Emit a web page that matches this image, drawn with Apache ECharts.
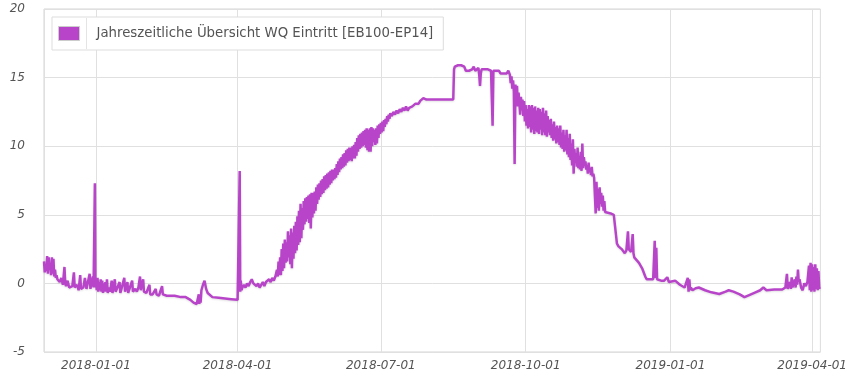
<!DOCTYPE html>
<html>
<head>
<meta charset="utf-8">
<script src="https://cdn.jsdelivr.net/npm/echarts@6/dist/echarts.min.js"></script>
<style>
html,body{margin:0;padding:0;background:#fff;}
#chart{width:850px;height:375px;}
</style>
</head>
<body>
<div id="chart"></div>
<script>
// Each entry: [date, value, value, ...] ; several values in one entry are spread over that day.
const seriesName = 'Jahreszeitliche Übersicht WQ Eintritt [EB100-EP14]';
const yTicks = [-5, 0, 5, 10, 15, 20];

const winter2017 = [
 ['2017-11-29', 1.6, 0.8], ['2017-11-30', 1.4, 0.9], ['2017-12-01', 2.0, 0.7],
 ['2017-12-02', 1.9, 1.0], ['2017-12-03', 1.4, 0.6], ['2017-12-04', 1.9, 0.7],
 ['2017-12-05', 1.8, 0.5], ['2017-12-06', 1.0, 0.4], ['2017-12-07', 0.6, 0.3],
 ['2017-12-08', 0.3], ['2017-12-09', 0.1], ['2017-12-10', 0.4], ['2017-12-11', -0.1],
 ['2017-12-12', 1.2, 0.0], ['2017-12-13', -0.2], ['2017-12-14', 0.2], ['2017-12-15', -0.3],
 ['2017-12-16', -0.4], ['2017-12-17', -0.2], ['2017-12-18', 0.8, -0.3], ['2017-12-19', -0.4],
 ['2017-12-20', -0.1], ['2017-12-21', -0.5], ['2017-12-22', 0.6, -0.4], ['2017-12-23', -0.5],
 ['2017-12-24', -0.3], ['2017-12-25', 0.4], ['2017-12-26', -0.4], ['2017-12-27', -0.5],
 ['2017-12-28', 0.7, -0.4], ['2017-12-29', -0.3], ['2017-12-30', 0.5, -0.3],
 ['2017-12-31', -0.2, 7.3, -0.3]
];

const q1_2018 = [
 ['2018-01-01', 0.3, -0.5], ['2018-01-02', 0.4, -0.6], ['2018-01-03', 0.1, -0.5],
 ['2018-01-04', 0.3, -0.6], ['2018-01-05', 0.2, -0.7], ['2018-01-06', 0.0, -0.6],
 ['2018-01-07', 0.1, -0.6], ['2018-01-08', 0.3, -0.7], ['2018-01-09', -0.3], ['2018-01-10', -0.6],
 ['2018-01-11', 0.2, -0.7], ['2018-01-12', -0.4], ['2018-01-13', 0.3, -0.6], ['2018-01-14', -0.5],
 ['2018-01-15', -0.2], ['2018-01-16', 0.1, -0.7], ['2018-01-17', -0.5], ['2018-01-18', -0.4],
 ['2018-01-19', 0.4, -0.6], ['2018-01-20', -0.5], ['2018-01-21', 0.1, -0.7], ['2018-01-22', -0.5],
 ['2018-01-23', -0.6], ['2018-01-24', 0.2, -0.6], ['2018-01-25', -0.5], ['2018-01-26', -0.4],
 ['2018-01-27', -0.6], ['2018-01-28', -0.3], ['2018-01-29', 0.5, -0.5], ['2018-01-30', -0.2],
 ['2018-01-31', 0.3, -0.6], ['2018-02-01', -0.6], ['2018-02-02', -0.7], ['2018-02-03', -0.8],
 ['2018-02-04', -0.1, -0.8], ['2018-02-06', -0.8], ['2018-02-08', -0.4, -0.8], ['2018-02-10', -0.9],
 ['2018-02-12', -0.2, -0.8], ['2018-02-15', -0.9], ['2018-02-18', -0.9], ['2018-02-20', -0.9],
 ['2018-02-24', -1.0], ['2018-02-27', -1.0], ['2018-03-02', -1.2], ['2018-03-04', -1.4],
 ['2018-03-06', -1.5], ['2018-03-07', -1.5, -0.8, -1.5], ['2018-03-08', -0.9, -1.4],
 ['2018-03-09', -0.5], ['2018-03-10', -0.1], ['2018-03-11', 0.2], ['2018-03-12', -0.4],
 ['2018-03-13', -0.7], ['2018-03-16', -1.0], ['2018-03-20', -1.05], ['2018-03-24', -1.1],
 ['2018-03-28', -1.15], ['2018-04-01', -1.2], ['2018-04-02', -1.2, 8.2, -0.6]
];

const spring2018 = [
 ['2018-04-03', 0.2, -0.5], ['2018-04-04', -0.3], ['2018-04-05', -0.1], ['2018-04-06', -0.3],
 ['2018-04-07', 0.0], ['2018-04-08', -0.2], ['2018-04-09', 0.1], ['2018-04-10', 0.3],
 ['2018-04-11', 0.0], ['2018-04-12', -0.1], ['2018-04-13', -0.2], ['2018-04-14', 0.0],
 ['2018-04-15', -0.3], ['2018-04-16', -0.1], ['2018-04-17', 0.1], ['2018-04-18', -0.2],
 ['2018-04-19', 0.1], ['2018-04-20', 0.0], ['2018-04-21', 0.3], ['2018-04-22', 0.1],
 ['2018-04-23', 0.4], ['2018-04-24', 0.2], ['2018-04-25', 0.5], ['2018-04-26', 1.0, 0.5],
 ['2018-04-27', 1.6, 0.6], ['2018-04-28', 1.9, 0.6], ['2018-04-29', 2.5, 0.9], ['2018-04-30', 2.9, 1.1],
 ['2018-05-01', 3.2, 1.5], ['2018-05-02', 3.0, 1.6], ['2018-05-03', 3.8, 1.9], ['2018-05-04', 3.5, 1.4],
 ['2018-05-05', 4.0, 1.1], ['2018-05-06', 3.7, 1.8], ['2018-05-07', 4.2, 2.2], ['2018-05-08', 4.5, 2.4],
 ['2018-05-09', 4.9, 2.8], ['2018-05-10', 5.3, 3.0], ['2018-05-11', 5.8, 3.3], ['2018-05-12', 5.5, 3.9],
 ['2018-05-13', 6.0, 4.3], ['2018-05-14', 6.2, 4.5], ['2018-05-15', 6.3, 4.7], ['2018-05-16', 6.4, 4.4],
 ['2018-05-17', 6.5, 4.0], ['2018-05-18', 6.6, 4.8], ['2018-05-19', 6.6, 5.1], ['2018-05-20', 6.7, 5.3],
 ['2018-05-21', 7.0, 5.8], ['2018-05-22', 7.2, 6.1], ['2018-05-23', 7.3, 6.3], ['2018-05-24', 7.5, 6.5],
 ['2018-05-25', 7.6, 6.6], ['2018-05-26', 7.8, 6.8], ['2018-05-27', 7.9, 6.9], ['2018-05-28', 8.0, 7.0],
 ['2018-05-29', 8.1, 7.2], ['2018-05-30', 8.2, 7.3], ['2018-05-31', 8.3, 7.5], ['2018-06-01', 8.3, 7.6],
 ['2018-06-02', 8.4, 7.7], ['2018-06-03', 8.7, 7.9], ['2018-06-04', 8.9, 8.1], ['2018-06-05', 9.1, 8.3],
 ['2018-06-06', 9.2, 8.4], ['2018-06-07', 9.4, 8.5], ['2018-06-08', 9.5, 8.6], ['2018-06-09', 9.7, 8.8],
 ['2018-06-10', 9.8, 8.9], ['2018-06-11', 9.9, 9.0], ['2018-06-12', 9.9, 8.9], ['2018-06-13', 10.0, 9.1],
 ['2018-06-14', 10.1, 9.1], ['2018-06-15', 10.3, 9.3], ['2018-06-16', 10.6, 9.6], ['2018-06-17', 10.8, 9.8],
 ['2018-06-18', 10.9, 9.9], ['2018-06-19', 11.0, 10.0], ['2018-06-20', 11.1, 10.1], ['2018-06-21', 11.2, 9.9],
 ['2018-06-22', 11.3, 9.7], ['2018-06-23', 11.2, 9.6], ['2018-06-24', 11.3, 9.6], ['2018-06-25', 11.4, 10.0],
 ['2018-06-26', 11.3, 10.3], ['2018-06-27', 11.2, 10.1], ['2018-06-28', 11.3, 10.2], ['2018-06-29', 11.5, 10.6],
 ['2018-06-30', 11.6, 10.9]
];

const summer2018 = [
 ['2018-07-01', 11.7, 11.0], ['2018-07-02', 11.8, 11.1], ['2018-07-03', 11.9, 11.4], ['2018-07-04', 12.0, 11.6],
 ['2018-07-05', 12.2, 11.8], ['2018-07-06', 12.3, 12.0], ['2018-07-07', 12.4], ['2018-07-08', 12.2],
 ['2018-07-09', 12.5], ['2018-07-10', 12.3], ['2018-07-11', 12.6], ['2018-07-12', 12.4], ['2018-07-13', 12.7],
 ['2018-07-14', 12.5], ['2018-07-15', 12.8], ['2018-07-16', 12.6], ['2018-07-17', 12.9], ['2018-07-18', 12.6],
 ['2018-07-19', 12.8], ['2018-07-20', 12.7], ['2018-07-21', 12.9], ['2018-07-22', 13.0], ['2018-07-23', 13.1],
 ['2018-07-24', 13.2], ['2018-07-25', 13.1], ['2018-07-26', 13.3], ['2018-07-27', 13.4], ['2018-07-28', 13.5],
 ['2018-07-29', 13.5], ['2018-07-30', 13.4], ['2018-08-16', 13.4, 15.6],
 ['2018-08-17', 15.8], ['2018-08-18', 15.7], ['2018-08-19', 15.9], ['2018-08-20', 15.8], ['2018-08-21', 15.9],
 ['2018-08-22', 16.0], ['2018-08-23', 15.8], ['2018-08-24', 15.5], ['2018-08-25', 15.6], ['2018-08-26', 15.5],
 ['2018-08-27', 15.4], ['2018-08-28', 15.6], ['2018-08-29', 15.8], ['2018-08-30', 15.5], ['2018-08-31', 15.6],
 ['2018-09-01', 15.7, 15.2], ['2018-09-02', 14.4, 15.3], ['2018-09-03', 15.6], ['2018-09-04', 15.7],
 ['2018-09-05', 15.6], ['2018-09-06', 15.5], ['2018-09-07', 15.6], ['2018-09-08', 15.5], ['2018-09-09', 15.5],
 ['2018-09-10', 11.5, 15.5], ['2018-09-11', 15.6], ['2018-09-12', 15.5], ['2018-09-13', 15.4], ['2018-09-14', 15.5],
 ['2018-09-15', 15.3], ['2018-09-16', 15.4], ['2018-09-17', 15.3], ['2018-09-18', 15.4], ['2018-09-19', 15.3],
 ['2018-09-20', 15.5], ['2018-09-21', 15.2, 14.6], ['2018-09-22', 15.1, 14.2], ['2018-09-23', 14.8, 14.0],
 ['2018-09-24', 8.7, 14.5], ['2018-09-25', 13.6, 14.4], ['2018-09-26', 12.9, 13.9], ['2018-09-27', 13.2, 12.3],
 ['2018-09-28', 13.6, 12.6], ['2018-09-29', 13.4, 12.2], ['2018-09-30', 13.3, 11.8]
];

const autumn2018 = [
 ['2018-10-01', 13.0, 11.5], ['2018-10-02', 12.7, 11.3], ['2018-10-03', 13.0, 11.4], ['2018-10-04', 12.9, 11.0],
 ['2018-10-05', 13.0, 11.2], ['2018-10-06', 12.8, 10.9], ['2018-10-07', 12.9, 11.1], ['2018-10-08', 12.6, 11.0],
 ['2018-10-09', 12.8, 10.9], ['2018-10-10', 12.7, 11.2], ['2018-10-11', 12.5, 10.8], ['2018-10-12', 12.8, 11.0],
 ['2018-10-13', 12.4, 10.8], ['2018-10-14', 12.6, 10.7], ['2018-10-15', 12.2, 11.0], ['2018-10-16', 11.9, 10.8],
 ['2018-10-17', 12.0, 10.6], ['2018-10-18', 11.6, 10.4], ['2018-10-19', 11.8, 10.5], ['2018-10-20', 11.4, 10.2],
 ['2018-10-21', 11.5, 10.3], ['2018-10-22', 11.3, 10.1], ['2018-10-23', 11.5, 9.9], ['2018-10-24', 11.0, 9.8],
 ['2018-10-25', 11.2, 9.6], ['2018-10-26', 10.8, 9.7], ['2018-10-27', 11.2, 9.4], ['2018-10-28', 10.6, 9.2],
 ['2018-10-29', 10.9, 9.0], ['2018-10-30', 10.2, 8.6], ['2018-10-31', 10.5, 8.0], ['2018-11-01', 9.8, 8.8],
 ['2018-11-02', 9.5, 8.5], ['2018-11-03', 9.9, 8.4], ['2018-11-04', 9.3, 8.3], ['2018-11-05', 9.6, 8.2],
 ['2018-11-06', 10.2, 8.4], ['2018-11-07', 9.2, 8.6], ['2018-11-08', 8.9, 8.3], ['2018-11-09', 8.6, 8.0],
 ['2018-11-10', 8.8, 8.1], ['2018-11-11', 8.4, 7.9], ['2018-11-12', 8.5, 7.8], ['2018-11-13', 8.0, 7.7],
 ['2018-11-14', 7.7, 5.1], ['2018-11-15', 7.4, 5.5], ['2018-11-16', 6.9, 5.3], ['2018-11-17', 7.0, 5.8],
 ['2018-11-18', 6.6, 5.6], ['2018-11-19', 6.4, 5.3], ['2018-11-20', 6.0, 5.2], ['2018-11-21', 5.1],
 ['2018-11-24', 5.1], ['2018-11-26', 5.0], ['2018-11-28', 2.9], ['2018-11-29', 2.7], ['2018-12-01', 2.5],
 ['2018-12-03', 2.2], ['2018-12-04', 2.4], ['2018-12-05', 3.8, 2.5], ['2018-12-06', 2.4], ['2018-12-07', 2.3],
 ['2018-12-08', 3.6, 2.2], ['2018-12-09', 1.9], ['2018-12-10', 1.8], ['2018-12-12', 1.5], ['2018-12-14', 1.1],
 ['2018-12-16', 0.5], ['2018-12-17', 0.3], ['2018-12-21', 0.3], ['2018-12-22', 3.1, 0.4], ['2018-12-23', 2.6, 0.3],
 ['2018-12-24', 0.3], ['2018-12-26', 0.2], ['2018-12-28', 0.2], ['2018-12-30', 0.45], ['2018-12-31', 0.1]
];

const winter2019 = [
 ['2019-01-01', 0.2], ['2019-01-04', 0.2], ['2019-01-07', -0.1], ['2019-01-10', -0.3], ['2019-01-11', -0.4],
 ['2019-01-12', 0.4, -0.6], ['2019-01-13', 0.3, -0.5], ['2019-01-14', -0.3], ['2019-01-15', -0.5],
 ['2019-01-17', -0.35], ['2019-01-19', -0.3], ['2019-01-23', -0.5], ['2019-01-27', -0.65], ['2019-02-01', -0.77],
 ['2019-02-05', -0.6], ['2019-02-07', -0.5], ['2019-02-10', -0.6], ['2019-02-14', -0.8], ['2019-02-17', -1.0],
 ['2019-02-20', -0.85], ['2019-02-24', -0.65], ['2019-02-27', -0.5], ['2019-03-01', -0.3], ['2019-03-02', -0.2],
 ['2019-03-03', -0.5], ['2019-03-08', -0.45], ['2019-03-13', -0.45], ['2019-03-15', -0.3],
 ['2019-03-16', 0.7, -0.4], ['2019-03-17', -0.2], ['2019-03-18', 0.1, -0.4], ['2019-03-19', 0.45, -0.3],
 ['2019-03-20', -0.2], ['2019-03-21', 0.3, -0.3], ['2019-03-22', 0.5, -0.1], ['2019-03-23', 1.0, 0.1],
 ['2019-03-24', 0.3], ['2019-03-25', -0.3], ['2019-03-26', -0.5], ['2019-03-27', 0.0], ['2019-03-28', -0.2],
 ['2019-03-29', 0.1], ['2019-03-30', 1.3, -0.5], ['2019-03-31', 1.5, -0.6], ['2019-04-01', 1.4, -0.5],
 ['2019-04-02', 1.2, -0.6], ['2019-04-03', 1.4, -0.4], ['2019-04-04', 1.1, -0.5], ['2019-04-05', 0.9, -0.3],
 ['2019-04-06', -0.4]
];

const DAY = 86400000;
function parseDay(s) {
  const p = s.split('-').map(Number);
  return new Date(p[0], p[1] - 1, p[2]).getTime();
}
function expand(seg) {
  const out = [];
  seg.forEach(function (e) {
    const t0 = parseDay(e[0]);
    const vals = e.slice(1);
    vals.forEach(function (v, i) { out.push([t0 + i * DAY / vals.length, v]); });
  });
  return out;
}
const data = [].concat(expand(winter2017), expand(q1_2018), expand(spring2018),
  expand(summer2018), expand(autumn2018), expand(winter2019));

function pad(n) { return (n < 10 ? '0' : '') + n; }
function fmtDate(v) {
  const d = new Date(v);
  return d.getFullYear() + '-' + pad(d.getMonth() + 1) + '-' + pad(d.getDate());
}

const chart = echarts.init(document.getElementById('chart'), null, { renderer: 'canvas' });
const labelStyle = { color: '#545454', fontFamily: 'DejaVu Sans', fontSize: 12, fontStyle: 'italic' };
chart.setOption({
  animation: false,
  backgroundColor: '#fff',
  grid: { left: 44, right: 24, top: 9, bottom: 23, show: true, borderColor: '#d4d4d4', borderWidth: 1, backgroundColor: 'transparent' },
  legend: {
    left: 52, top: 17, orient: 'horizontal',
    padding: [9, 10, 9, 6],
    backgroundColor: '#fff', borderColor: '#dddddd', borderWidth: 1,
    itemWidth: 21, itemHeight: 14, icon: 'rect',
    itemStyle: { borderColor: '#cccccc', borderWidth: 1 },
    textStyle: { fontFamily: 'DejaVu Sans', fontSize: 13.3, color: '#545454', padding: [0, 0, 0, 12] },
    selectedMode: false,
    data: [seriesName]
  },
  graphic: [{
    type: 'line', shape: { x1: 86.5, y1: 18, x2: 86.5, y2: 49 },
    style: { stroke: '#e4e4e4', lineWidth: 1 }, z: 100
  }],
  xAxis: {
    type: 'time',
    min: parseDay('2017-11-29'),
    max: parseDay('2019-04-06') + 6 * 3600000,
    minInterval: 100 * DAY, maxInterval: 100 * DAY,
    axisLine: { show: false }, axisTick: { show: false },
    axisLabel: Object.assign({ margin: 8, showMinLabel: false, showMaxLabel: false, formatter: fmtDate, hideOverlap: false }, labelStyle),
    splitLine: { show: true, lineStyle: { color: '#e0e0e0', width: 1 } }
  },
  yAxis: {
    type: 'value', min: yTicks[0], max: yTicks[yTicks.length - 1], interval: 5,
    axisLine: { show: false }, axisTick: { show: false },
    axisLabel: Object.assign({ margin: 19 }, labelStyle),
    splitLine: { show: true, lineStyle: { color: '#e0e0e0', width: 1 } }
  },
  series: [{
    name: seriesName,
    type: 'line',
    data: data,
    showSymbol: false,
    symbol: 'none',
    sampling: null,
    color: '#b845c9',
    lineStyle: { color: '#b845c9', width: 2.5, shadowColor: 'rgba(0,0,0,0.12)', shadowBlur: 2, shadowOffsetY: 1 },
    itemStyle: { color: '#b845c9' }
  }]
});
</script>
</body>
</html>
